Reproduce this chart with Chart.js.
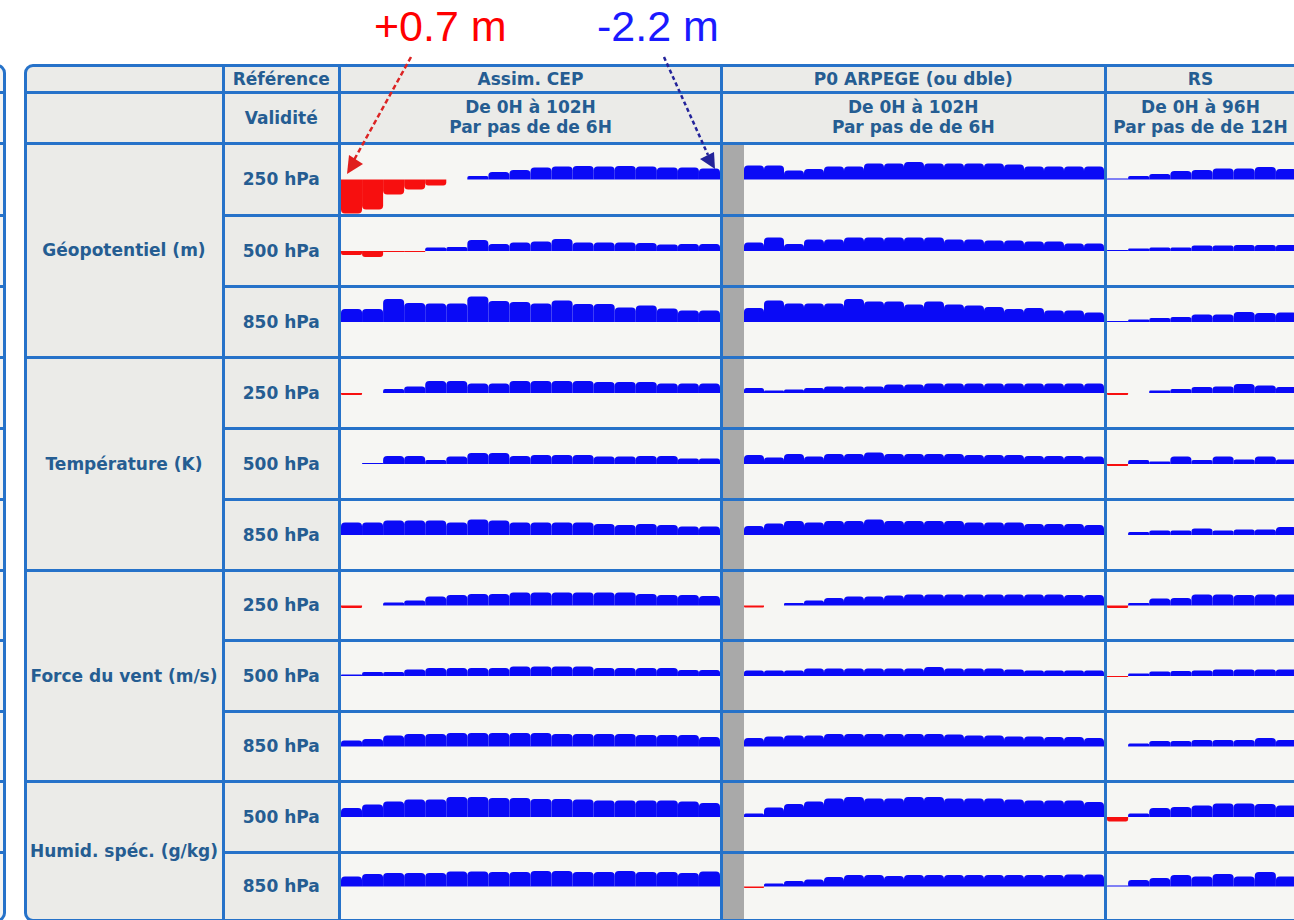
<!DOCTYPE html>
<html><head><meta charset="utf-8">
<script src="https://cdn.jsdelivr.net/npm/chart.js@4/dist/chart.umd.min.js"></script>
<style>
html,body{margin:0;padding:0;background:#fff;width:1294px;height:920px;overflow:hidden;}
#stage{position:relative;width:1294px;height:920px;overflow:hidden;font-family:"DejaVu Sans",Verdana,sans-serif;}
.txt{position:absolute;display:flex;flex-direction:column;align-items:center;justify-content:center;text-align:center;font-weight:bold;font-size:17px;color:#255d92;line-height:20px;white-space:nowrap;}
.ann{position:absolute;font-family:"Liberation Sans",Arial,sans-serif;font-size:43px;line-height:43px;white-space:nowrap;}
canvas{position:absolute;}
</style></head><body><div id="stage"></div>
<script>
// ---------- labels ----------
const leadsCEP = ['0H','6H','12H','18H','24H','30H','36H','42H','48H','54H','60H','66H','72H','78H','84H','90H','96H','102H'];
const leadsP0  = ['0H','6H','12H','18H','24H','30H','36H','42H','48H','54H','60H','66H','72H','78H','84H','90H','96H','102H'];
const leadsRS  = ['0H','12H','24H','36H','48H','60H','72H','84H','96H'];
const parameters = ['Géopotentiel (m)','Température (K)','Force du vent (m/s)','Humid. spéc. (g/kg)'];
const levels = ['250 hPa','500 hPa','850 hPa','250 hPa','500 hPa','850 hPa','250 hPa','500 hPa','850 hPa','500 hPa','850 hPa'];
const columnTitles = ['Assim. CEP','P0 ARPEGE (ou dble)','RS'];
const validityLine1 = ['De 0H à 102H','De 0H à 102H','De 0H à 96H'];
const validityLine2 = ['Par pas de de 6H','Par pas de de 6H','Par pas de de 12H'];
const annotations = ['+0.7 m','-2.2 m'];

// ---------- values (positive = red, drawn downward; negative = blue, drawn upward) ----------
const geo250CEP  = [34, 30, 15, 10, 6, 0, -3.5, -7.5, -9.5, -12, -13, -13.5, -13, -13.5, -13, -12, -12, -11];
const geo500CEP  = [4, 6, 1, 1, -3.5, -4, -11, -7, -8.5, -9.5, -12, -8.5, -8.5, -8.5, -8, -6.5, -7, -7];
const geo850CEP  = [-13, -13, -23, -19, -18.5, -18.5, -25.5, -21, -20, -18.5, -21.5, -18, -18, -14.5, -16.5, -13.5, -11.5, -11.5];
const temp250CEP = [2, 0, -4, -6.5, -12, -12, -9.5, -9.5, -12, -12, -12, -12, -11, -11, -11, -9.5, -9.5, -9.5];
const temp500CEP = [0, -1, -8, -8, -4, -7.5, -11, -11, -8, -9, -9, -9, -7.5, -7.5, -8, -8, -5.5, -5.5];
const temp850CEP = [-12.5, -12.5, -14.5, -14.5, -14.5, -12.5, -15.5, -14.5, -12.5, -12.5, -12.5, -12.5, -11, -10, -11, -10, -8.5, -8.5];
const vent250CEP = [2.5, 0, -3, -5, -9, -10.5, -11.5, -11.5, -13, -13, -13, -13, -13, -13, -11.5, -10.5, -10.5, -9.5];
const vent500CEP = [-1.5, -4, -4, -6.5, -8, -8, -8, -8, -9.5, -9.5, -9.5, -9.5, -8, -8, -8, -8, -6, -6];
const vent850CEP = [-6, -7.5, -11, -12.5, -12.5, -13.5, -13.5, -13.5, -13.5, -13.5, -12.5, -12.5, -12.5, -12.5, -11.5, -11.5, -11.5, -9.5];
const hum500CEP  = [-9, -12.5, -15.5, -17.5, -17.5, -20, -20, -19, -19, -18, -18, -17.5, -16.5, -16.5, -16.5, -16.5, -15.5, -14];
const hum850CEP  = [-10, -12.5, -13.5, -13.5, -13.5, -15, -15, -14.5, -14.5, -15.5, -15.5, -14.5, -14.5, -15.5, -14.5, -14.5, -13.5, -15];

const geo250P0  = [-14, -14, -9, -10.5, -13, -13, -16, -16, -17.5, -16, -16, -16, -16, -15, -13, -13, -13, -13];
const geo500P0  = [-8.5, -13.5, -7, -11.5, -11.5, -13.5, -13.5, -13.5, -13.5, -13.5, -11.5, -11.5, -10.5, -10.5, -9.5, -9.5, -7.5, -7.5];
const geo850P0  = [-14, -21.5, -18.5, -18.5, -18.5, -23, -20.5, -20.5, -17.5, -20.5, -17.5, -16.5, -15, -13, -14, -11.5, -11.5, -9.5];
const temp250P0 = [-5, -2.5, -3.5, -5, -6.5, -6.5, -6.5, -8.5, -8.5, -9.5, -9.5, -9.5, -9.5, -9.5, -9.5, -9.5, -9.5, -9.5];
const temp500P0 = [-9, -6.5, -10, -7.5, -10, -10, -11.5, -10, -10, -10, -10, -9, -9, -9, -8, -8, -8, -7.5];
const temp850P0 = [-9, -11.5, -14, -12.5, -14, -14, -15.5, -14, -14, -14, -14, -12.5, -12.5, -12.5, -11, -11, -11, -10];
const vent250P0 = [2, 0, -2.5, -5, -7.5, -9, -9, -10, -11, -11, -11, -11, -11, -11, -11, -11, -10.5, -10.5];
const vent500P0 = [-5.5, -5.5, -5.5, -7.5, -7.5, -7.5, -7.5, -7.5, -7.5, -9, -7.5, -7.5, -7.5, -6.5, -5.5, -5.5, -5.5, -5.5];
const vent850P0 = [-8.5, -10, -11, -11, -12.5, -12.5, -12.5, -12.5, -12.5, -12.5, -12, -11, -11, -10, -10, -9.5, -9.5, -8.5];
const hum500P0  = [-3.5, -9.5, -13, -15.5, -18.5, -20, -18.5, -18.5, -20, -20, -18.5, -18.5, -18.5, -17.5, -16.5, -16.5, -16.5, -15];
const hum850P0  = [1.5, -3, -5.5, -7, -9.5, -11.5, -11.5, -10.5, -11.5, -11.5, -11.5, -11.5, -11.5, -11.5, -11.5, -11.5, -12, -12];

const geo250RS  = [-1, -3.5, -5.5, -8.5, -9.5, -11, -11, -12.5, -10.5];
const geo500RS  = [-1, -2.5, -3.5, -3.5, -5.5, -5.5, -6, -6, -6];
const geo850RS  = [-1, -2.5, -4, -5, -7.5, -7.5, -10, -9, -9.5];
const temp250RS = [2, 0, -2.5, -4, -6, -6.5, -9, -7.5, -6];
const temp500RS = [2, -4, -2.5, -7.5, -4, -7.5, -4.5, -7.5, -4.5];
const temp850RS = [0, -3, -4.5, -4.5, -6.5, -4.5, -5.5, -5.5, -8];
const vent250RS = [2.5, -2.5, -7, -7.5, -11, -11, -10.5, -11, -11];
const vent500RS = [1, -2.5, -4.5, -5, -5.5, -6.5, -6.5, -6.5, -6.5];
const vent850RS = [0, -3, -5.5, -5.5, -6.5, -6.5, -6.5, -8.5, -6.5];
const hum500RS  = [4.5, -3.5, -9, -10, -11.5, -13.5, -13.5, -13, -11.5];
const hum850RS  = [-1, -6.5, -8.5, -11.5, -10, -12.5, -10, -14.5, -10];

const seriesCEP = [geo250CEP, geo500CEP, geo850CEP, temp250CEP, temp500CEP, temp850CEP, vent250CEP, vent500CEP, vent850CEP, hum500CEP, hum850CEP];
const seriesP0  = [geo250P0, geo500P0, geo850P0, temp250P0, temp500P0, temp850P0, vent250P0, vent500P0, vent850P0, hum500P0, hum850P0];
const seriesRS  = [geo250RS, geo500RS, geo850RS, temp250RS, temp500RS, temp850RS, vent250RS, vent500RS, vent850RS, hum500RS, hum850RS];
const groupSizes = [3, 3, 3, 2];

// ---------- layout ----------
const BLUE = '#0a0af6', RED = '#f70f0f';
const LINE = '#2672c9', HEAD_BG = '#ebebe8', DATA_BG = '#f6f6f3', BAND = '#a9a9a9';
const X = {lab: 25, lev: 223, cep: 339.5, p0: 721.5, rs: 1105, end: 1296};
const YH = [65, 92, 143];
const YR = [143, 215, 286, 357, 428, 499, 570, 640, 711, 781, 852, 920];
const stage = document.getElementById('stage');

function box(x, y, w, h, css) {
  const d = document.createElement('div');
  d.style.position = 'absolute';
  d.style.left = x + 'px'; d.style.top = y + 'px';
  d.style.width = w + 'px'; d.style.height = h + 'px';
  Object.assign(d.style, css || {});
  stage.appendChild(d);
  return d;
}
function vline(x, y0, y1) { box(x - 1.5, y0 - 1.5, 3, y1 - y0 + 3, {background: LINE}); }
function hline(y, x0, x1) { box(x0 - 1.5, y - 1.5, x1 - x0 + 3, 3, {background: LINE}); }
function txt(x0, x1, y0, y1, lines) {
  const d = box(x0, y0, x1 - x0, y1 - y0);
  d.className = 'txt';
  lines.forEach(s => { const sp = document.createElement('div'); sp.textContent = s; d.appendChild(sp); });
}

// left partial neighbour panel
box(-30, 63.5, 35.5, 858, {border: '3px solid ' + LINE, borderRadius: '9px', background: '#f4f4f2', boxSizing: 'border-box'});
[YH[1], YH[2]].concat(YR.slice(1, 11)).forEach(y => hline(y, 0, 4));

// backgrounds
box(X.lab, 65, X.lev - X.lab, 855, {background: HEAD_BG, borderRadius: '9px 0 0 9px'});
box(X.lev, 65, X.cep - X.lev, 855, {background: HEAD_BG});
box(X.cep, 65, X.end - X.cep, 78, {background: HEAD_BG});
box(X.cep, 143, X.end - X.cep, 777, {background: DATA_BG});
box(X.p0 + 1.5, 143, 21, 777, {background: BAND});

// grid lines
[X.lev, X.cep, X.p0, X.rs].forEach(x => vline(x, 65, 920));
hline(YH[1], X.lab, X.end + 5);
hline(YH[2], X.lab, X.end + 5);
let acc = 0; const groupStarts = [];
groupSizes.forEach(n => { groupStarts.push(acc); acc += n; });
for (let r = 1; r < 11; r++) {
  const full = groupStarts.includes(r);
  hline(YR[r], full ? X.lab : X.lev, X.end + 5);
}
// outer rounded frame
box(23.5, 63.5, 1300, 858, {border: '3px solid ' + LINE, borderRadius: '9px', boxSizing: 'border-box'});

// header texts
txt(X.lev, X.cep, YH[0], YH[1], ['Référence']);
txt(X.lev, X.cep, YH[1], YH[2], ['Validité']);
const colBounds = [[X.cep, X.p0], [X.p0, X.rs], [X.rs, X.end]];
colBounds.forEach((b, i) => {
  txt(b[0], b[1], YH[0], YH[1], [columnTitles[i]]);
  txt(b[0], b[1], YH[1] - 1, YH[2] - 1, [validityLine1[i], validityLine2[i]]);
});
// row texts
levels.forEach((lv, r) => txt(X.lev, X.cep, YR[r], YR[r + 1], [lv]));
groupSizes.forEach((n, g) => {
  const r0 = groupStarts[g];
  txt(X.lab, X.lev, YR[r0], YR[r0 + n], [parameters[g]]);
});

// ---------- mini bar charts ----------
function miniChart(x0, x1, y0, y1, labels, values) {
  const c = document.createElement('canvas');
  const left = Math.round(x0), top = Math.round(y0);
  const w = Math.round(x1 - x0), h = Math.round(y1 - y0);
  c.width = w; c.height = h;
  c.style.left = left + 'px'; c.style.top = top + 'px';
  c.style.width = w + 'px'; c.style.height = h + 'px';
  stage.appendChild(c);
  new Chart(c, {
    type: 'bar',
    data: {labels: labels, datasets: [{
      data: values,
      backgroundColor: ctx => (ctx.raw > 0 ? RED : BLUE),
      borderWidth: 0, borderRadius: 4, borderSkipped: 'start',
      inflateAmount: 0, barPercentage: 1, categoryPercentage: 1
    }]},
    options: {
      responsive: false, animation: false, devicePixelRatio: 1,
      layout: {padding: 0},
      events: [],
      plugins: {legend: {display: false}, tooltip: {enabled: false}},
      scales: {
        x: {display: false, offset: true, grid: {display: false}},
        y: {display: false, min: -h / 2, max: h / 2, reverse: true}
      }
    }
  });
}
const chartCols = [
  {x0: 341, x1: 720, labels: leadsCEP, series: seriesCEP},
  {x0: 744, x1: 1103.5, labels: leadsP0, series: seriesP0},
  {x0: 1106.5, x1: 1296, labels: leadsRS, series: seriesRS}
];
for (let r = 0; r < 11; r++) {
  const y0 = YR[r] + 1.5, y1 = (r === 10 ? 918.5 : YR[r + 1] - 1.5);
  chartCols.forEach(col => miniChart(col.x0, col.x1, y0, y1, col.labels, col.series[r]));
}

// ---------- annotations ----------
const a1 = box(374, 5, 200, 43); a1.className = 'ann'; a1.style.color = '#ff0000'; a1.textContent = annotations[0];
const a2 = box(597, 5, 200, 43); a2.className = 'ann'; a2.style.color = '#1a1aff'; a2.textContent = annotations[1];
const svgNS = 'http://www.w3.org/2000/svg';
const svg = document.createElementNS(svgNS, 'svg');
svg.setAttribute('width', 1294); svg.setAttribute('height', 920);
svg.style.position = 'absolute'; svg.style.left = '0'; svg.style.top = '0';
svg.innerHTML =
  '<line x1="411" y1="57" x2="354" y2="160" stroke="#dc2323" stroke-width="2.5" stroke-dasharray="5 3"/>' +
  '<polygon points="347,174 349,155 363,164" fill="#e01e1e"/>' +
  '<line x1="664" y1="57" x2="708" y2="155" stroke="#23239a" stroke-width="2.5" stroke-dasharray="4 3"/>' +
  '<polygon points="715,169 700,159 714,152" fill="#23239a"/>';
stage.appendChild(svg);
</script></body></html>
